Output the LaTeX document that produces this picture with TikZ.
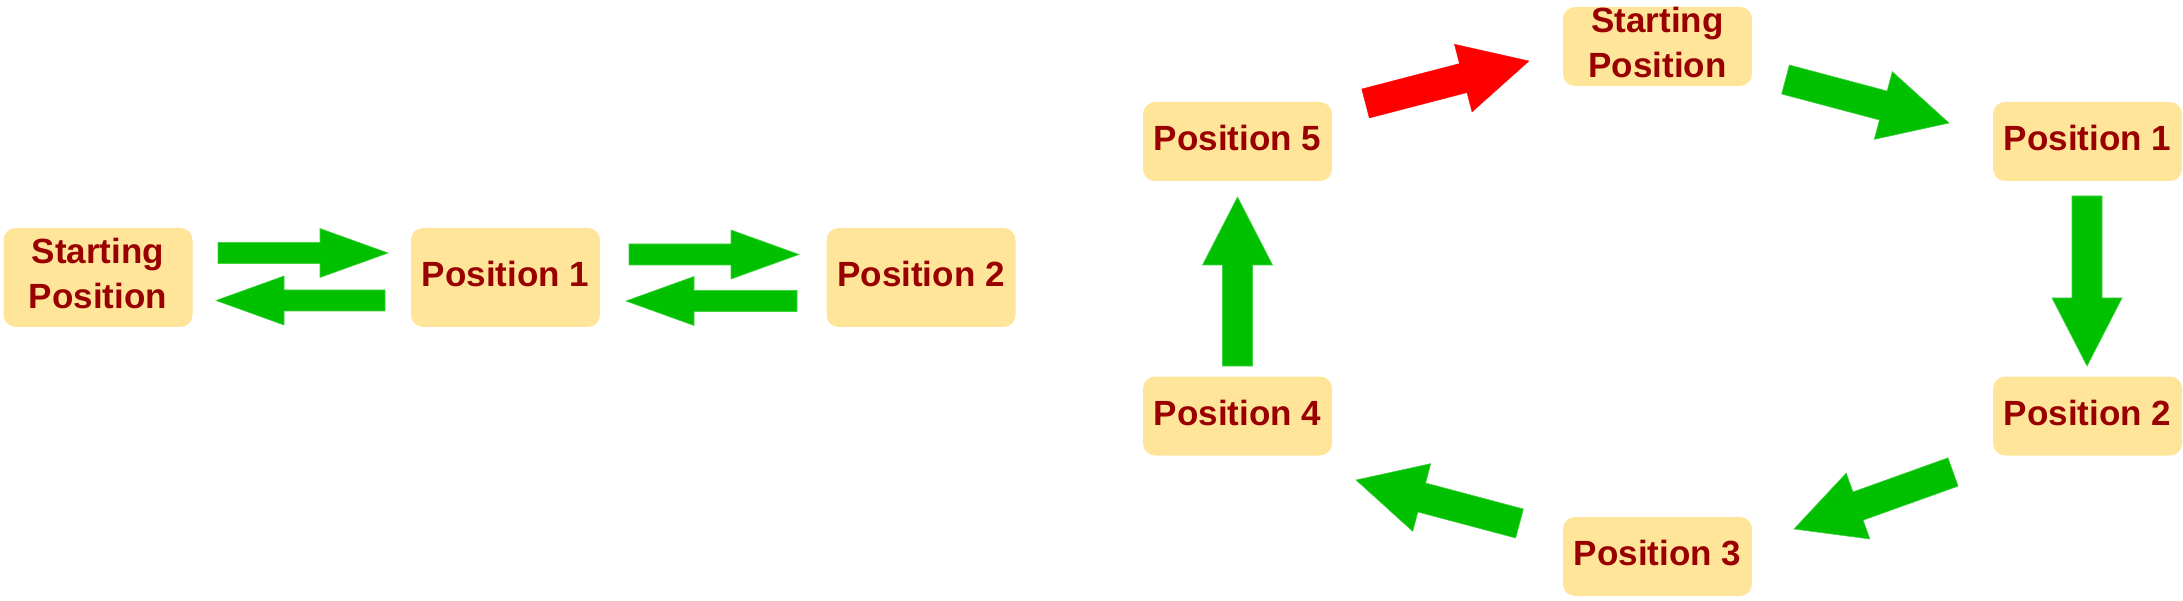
\documentclass[tikz,border=0pt]{standalone}
\usepackage{fontspec}
\setmainfont{Liberation Sans}
\usetikzlibrary{calc}
\definecolor{boxfill}{RGB}{255,229,153}
\definecolor{txtred}{RGB}{153,0,0}
\definecolor{arrgreen}{RGB}{0,192,0}
\definecolor{arrred}{RGB}{255,0,0}
\newcommand\tb[1]{\begin{tabular}[t]{@{}c@{}}#1\end{tabular}}
% #1 style, #2 start coordinate, #3 end coordinate, #4 half shaft, #5 half head, #6 head length
\newcommand\blockarr[6]{%
  \coordinate (#2n) at ($(#3)!#6!(#2)$);
  \filldraw[#1] ($(#2)!#4!90:(#3)$) -- ($(#2n)!#4!90:(#3)$) -- ($(#2n)!#5!90:(#3)$) -- (#3)
    -- ($(#2n)!#5!-90:(#3)$) -- ($(#2n)!#4!-90:(#3)$) -- ($(#2)!#4!-90:(#3)$) -- cycle;}
\begin{document}
\begin{tikzpicture}[x=1pt,y=-1pt,
  box/.style={rounded corners=12pt, fill=boxfill, draw=none, text=txtred,
    font=\fontsize{35}{45}\selectfont\bfseries, minimum width=189pt, inner sep=0pt},
  tallbox/.style={box, minimum height=99pt},
  shortbox/.style={box, minimum height=79pt},
  greenarr/.style={fill=arrgreen, draw=arrgreen!75!white, line width=0.6pt, line join=miter},
  redarr/.style={fill=arrred, draw=arrred, line width=0.3pt, line join=miter}]
\useasboundingbox (0,0) rectangle (2183,601);
% left row
\node[tallbox] (startL) at (98,277.5) {\tb{Starting\\Position}};
\node[tallbox] (pos1L) at (505.5,277.5) {\tb{Position 1}};
\node[tallbox] (pos2L) at (921,277.5) {\tb{Position 2}};
% right cycle
\node[shortbox, text height=23.5pt, text depth=50.5pt] (startT) at (1657.5,46.5) {\tb{Starting\\Position}};
\node[shortbox] (pos1R) at (2087.5,141.5) {\tb{Position 1}};
\node[shortbox] (pos2R) at (2087.5,416) {\tb{Position 2}};
\node[shortbox] (pos3R) at (1657.5,556.5) {\tb{Position 3}};
\node[shortbox] (pos4R) at (1237.5,416) {\tb{Position 4}};
\node[shortbox] (pos5R) at (1237.5,141.5) {\tb{Position 5}};
% arrow end points
\coordinate (a1s) at (218,253);   \coordinate (a1e) at (388,253);
\coordinate (a2s) at (385,300.5); \coordinate (a2e) at (216,300.5);
\coordinate (a3s) at (629,254.5); \coordinate (a3e) at (799,254.5);
\coordinate (a4s) at (797,301);   \coordinate (a4e) at (626,301);
\coordinate (r1s) at (1365.5,103.5); \coordinate (r1e) at (1529,61);
\coordinate (r2s) at (1785.5,79.5);  \coordinate (r2e) at (1949,123);
\coordinate (r3s) at (2087,196);     \coordinate (r3e) at (2087,366);
\coordinate (r4s) at (1953,472);     \coordinate (r4e) at (1794,529);
\coordinate (r5s) at (1519.5,523.5); \coordinate (r5e) at (1356,480);
\coordinate (r6s) at (1237.5,366);   \coordinate (r6e) at (1237.5,197);
% left row arrows
\blockarr{greenarr}{a1s}{a1e}{10.5pt}{24.5pt}{68pt}
\blockarr{greenarr}{a2s}{a2e}{10.5pt}{24.5pt}{68pt}
\blockarr{greenarr}{a3s}{a3e}{10.5pt}{24.5pt}{68pt}
\blockarr{greenarr}{a4s}{a4e}{10.5pt}{24.5pt}{68pt}
% cycle arrows
\blockarr{redarr}{r1s}{r1e}{15pt}{35pt}{68pt}
\blockarr{greenarr}{r2s}{r2e}{15pt}{35pt}{68pt}
\blockarr{greenarr}{r3s}{r3e}{15pt}{35pt}{68pt}
\blockarr{greenarr}{r4s}{r4e}{15pt}{35pt}{68pt}
\blockarr{greenarr}{r5s}{r5e}{15pt}{35pt}{68pt}
\blockarr{greenarr}{r6s}{r6e}{15pt}{35pt}{68pt}
\end{tikzpicture}
\end{document}
